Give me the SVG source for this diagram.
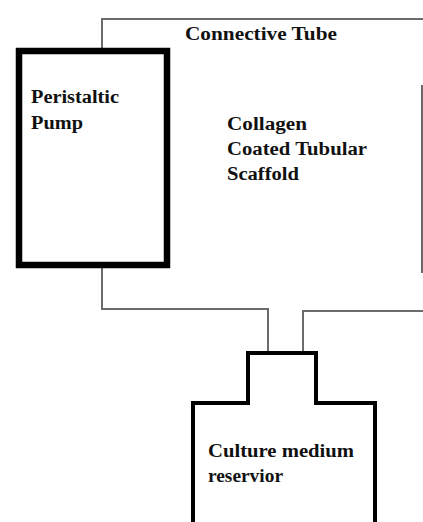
<svg xmlns="http://www.w3.org/2000/svg" width="423" height="522" viewBox="0 0 423 522">
<style>
.tube{fill:none;stroke:#6b6b6b;stroke-width:2}
.box{fill:none;stroke:#000;stroke-linejoin:miter}
text{font-family:"Liberation Serif","Times New Roman",serif;font-weight:bold;font-size:18px;fill:#111}
</style>
<rect width="423" height="522" fill="#fff"/>
<g id="connectors">
<polyline class="tube" points="102,48 102,19 423,19"/>
<polyline class="tube" points="102,268 102,309 268,309 268,353"/>
<polyline class="tube" points="423,311 303,311 303,353"/>
<line class="tube" x1="422" y1="85" x2="422" y2="273"/>
</g>
<g id="pump">
<rect class="box" x="19" y="51" width="148" height="214" stroke-width="6.5"/>
<text x="31" y="103" textLength="88" lengthAdjust="spacingAndGlyphs">Peristaltic</text>
<text x="31" y="129" textLength="52" lengthAdjust="spacingAndGlyphs">Pump</text>
</g>
<g id="tube-label">
<text x="185" y="40" textLength="152" lengthAdjust="spacingAndGlyphs">Connective Tube</text>
</g>
<g id="scaffold">
<text x="227" y="130" textLength="80" lengthAdjust="spacingAndGlyphs">Collagen</text>
<text x="227" y="155" textLength="140" lengthAdjust="spacingAndGlyphs">Coated Tubular</text>
<text x="227" y="180" textLength="72" lengthAdjust="spacingAndGlyphs">Scaffold</text>
</g>
<g id="reservoir">
<polyline class="box" stroke-width="4" points="193,522 193,403 248,403 248,353 316,353 316,403 375,403 375,522"/>
<text x="208" y="457" textLength="146" lengthAdjust="spacingAndGlyphs">Culture medium</text>
<text x="208" y="482" textLength="75" lengthAdjust="spacingAndGlyphs">reservior</text>
</g>
</svg>
